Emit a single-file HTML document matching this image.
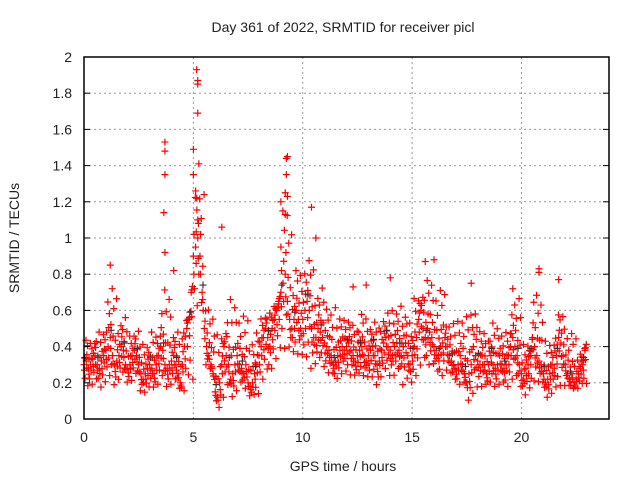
<!DOCTYPE html>
<html><head><meta charset="utf-8"><style>
body{margin:0;background:#fff}
svg{display:block;font-family:"Liberation Sans",sans-serif}
</style></head><body>
<svg id="chart" width="640" height="480">
<text x="343" y="32" font-size="14" text-anchor="middle" fill="#222">Day 361 of 2022, SRMTID for receiver picl</text>
<text x="343" y="471" font-size="14" text-anchor="middle" fill="#222">GPS time / hours</text>
<text transform="translate(19,238) rotate(-90)" font-size="14" text-anchor="middle" fill="#222">SRMTID / TECUs</text>
<g id="grid"></g><g id="marks"></g><g id="axes"></g>
</svg>
<script>
const xTicks=[0,5,10,15,20];
const yTicks=[0,0.2,0.4,0.6,0.8,1,1.2,1.4,1.6,1.8,2];
const yTickLabels=["0","0.2","0.4","0.6","0.8","1","1.2","1.4","1.6","1.8","2"];
const midVals=[0.3,0.32,0.28,0.3,0.33,0.35,0.3,0.28,0.32,0.35,
0.38,0.4,0.45,0.35,0.3,0.32,0.35,0.4,0.38,0.3,
0.28,0.3,0.35,0.38,0.35,0.3,0.25,0.22,0.25,0.28,
0.3,0.28,0.25,0.3,0.35,0.4,0.38,0.3,0.28,0.3,
0.32,0.35,0.3,0.25,0.2,0.3,0.4,0.5,0.55,0.7,
0.9,0.95,1.0,0.9,0.7,0.5,0.4,0.35,0.3,0.25,
0.15,0.12,0.2,0.3,0.4,0.35,0.3,0.22,0.25,0.3,
0.35,0.3,0.28,0.25,0.3,0.2,0.18,0.2,0.25,0.3,
0.35,0.4,0.45,0.5,0.45,0.4,0.5,0.55,0.6,0.65,
0.7,0.75,0.8,0.65,0.55,0.5,0.55,0.6,0.55,0.5,
0.55,0.6,0.65,0.6,0.5,0.45,0.45,0.5,0.48,0.45,
0.42,0.4,0.38,0.35,0.3,0.32,0.35,0.38,0.4,0.38,
0.4,0.42,0.38,0.35,0.32,0.35,0.38,0.4,0.35,0.32,
0.35,0.38,0.4,0.35,0.3,0.32,0.38,0.42,0.45,0.4,
0.38,0.35,0.4,0.42,0.38,0.35,0.4,0.42,0.35,0.3,
0.35,0.4,0.45,0.55,0.6,0.5,0.45,0.5,0.48,0.45,
0.4,0.38,0.35,0.4,0.42,0.45,0.4,0.35,0.32,0.3,
0.28,0.3,0.35,0.3,0.25,0.2,0.25,0.3,0.4,0.35,
0.32,0.3,0.35,0.3,0.25,0.3,0.35,0.3,0.28,0.3,
0.35,0.3,0.28,0.3,0.35,0.4,0.45,0.4,0.35,0.3,
0.25,0.22,0.28,0.3,0.35,0.45,0.4,0.35,0.32,0.3,
0.25,0.2,0.22,0.25,0.3,0.28,0.35,0.45,0.42,0.35,
0.3,0.25,0.22,0.25,0.2,0.22,0.25,0.28,0.3,0.38];
const hiVals=[0.45,0.5,0.75,0.58,0.5,0.45,0.5,0.75,0.5,0.6,1.3,0.65,0.5,0.7,0.6,0.5,0.6,0.65,1.2,0.85,0.9,0.75,0.65,0.6,0.55,0.6,0.55,0.6,0.65,0.6,0.7,0.8,0.75,0.55,0.6,0.65,0.5,0.55,0.5,0.7,0.45,0.75,0.45,0.6,0.5,0.4];
const loVals=[0.15,0.15,0.15,0.18,0.18,0.12,0.15,0.15,0.15,0.1,0.5,0.25,0.05,0.1,0.15,0.1,0.15,0.25,0.3,0.3,0.2,0.25,0.2,0.2,0.2,0.2,0.15,0.2,0.2,0.15,0.2,0.25,0.2,0.2,0.15,0.08,0.15,0.15,0.15,0.15,0.1,0.15,0.1,0.12,0.15,0.15];
const peakTimes=[3.7,3.7,3.7,3.65,3.7,5.15,5.2,5.2,5.2,5.0,5.25,5.0,5.1,5.15,5.2,9.3,9.25,9.25,9.2,9.3,9.0,9.2,10.4,6.3,10.6,1.2,4.1,15.6,16.0,20.8,20.8,14.0,12.3,12.9,17.7,19.6,21.7,9.0];
const peakVals=[1.53,1.48,1.35,1.14,0.92,1.93,1.87,1.85,1.69,1.49,1.41,1.35,1.26,1.22,1.1,1.45,1.44,1.35,1.25,1.23,1.2,1.13,1.17,1.06,1.0,0.85,0.82,0.87,0.88,0.83,0.81,0.78,0.73,0.74,0.75,0.72,0.77,0.95];
const L=84,R=609,T=57,B=419,XMAX=24,YMAX=2;
const xs=v=>L+(R-L)*v/XMAX, ys=v=>B-(B-T)*v/YMAX;
const NS="http://www.w3.org/2000/svg";
function mk(tag,attrs,parent){const e=document.createElementNS(NS,tag);for(const k in attrs)e.setAttribute(k,attrs[k]);parent.appendChild(e);return e;}
const grid=document.getElementById('grid'),marks=document.getElementById('marks'),axes=document.getElementById('axes');
xTicks.forEach(t=>{
 if(t>0){const g=mk('line',{x1:xs(t),x2:xs(t),y1:T,y2:B,stroke:'#999','stroke-dasharray':'2,3'},grid);
 
 }
 const tx=mk('text',{x:xs(t),y:B+23,'font-size':14,'text-anchor':'middle',fill:'#222'},axes);tx.textContent=t;
 
 
});
yTicks.forEach((t,i)=>{
 if(t>0&&t<YMAX){const g=mk('line',{x1:L,x2:R,y1:ys(t),y2:ys(t),stroke:'#999','stroke-dasharray':'2,3'},grid);
 
 
 mk('line',{x1:L,x2:L+6,y1:ys(t),y2:ys(t),stroke:'#000'},axes);
 mk('line',{x1:R-6,x2:R,y1:ys(t),y2:ys(t),stroke:'#000'},axes);}
 const tx=mk('text',{x:L-12,y:ys(t)+5,'font-size':14,'text-anchor':'end',fill:'#222'},axes);tx.textContent=yTickLabels[i];
 
 
});
const box=mk('rect',{x:L,y:T,width:R-L,height:B-T,fill:'none',stroke:'#000','stroke-width':1.5},axes);


function plus(t,v,c){
 const x=xs(t),y=ys(v);
 const p=mk('path',{d:`M${x-3.5},${y}h7M${x},${y-3.5}v7`,stroke:c,'stroke-width':1.2,fill:'none'},marks);
 
 
}
const levelsUp=[0.3,0.65,0.9];
const levelsDn=[0.25,0.5,0.8];
midVals.forEach((v,i)=>{
 const t=i*0.1, j=Math.min(Math.floor(i/5),hiVals.length-1);
 const h=Math.max(hiVals[j],v+0.05), l=Math.min(loVals[j],v-0.05);
 plus(t,v,'red');
 levelsUp.forEach((f,k)=>{ if((i+k)%2===0||k===0) plus(t+0.03*(k+1),v+(h-v)*f*(0.8+0.2*((i+k)%3)/2),'red'); });
 levelsDn.forEach((f,k)=>{ if((i+k)%2===1||k===0) plus(t+0.025*(k+1),v-(v-l)*f*(0.8+0.2*((i+2*k)%3)/2),'red'); });
 if(i%6===0)plus(t+0.04,v+0.04,'#333');
});
peakTimes.forEach((t,i)=>plus(t,peakVals[i],'red'));
</script>
</body></html>
